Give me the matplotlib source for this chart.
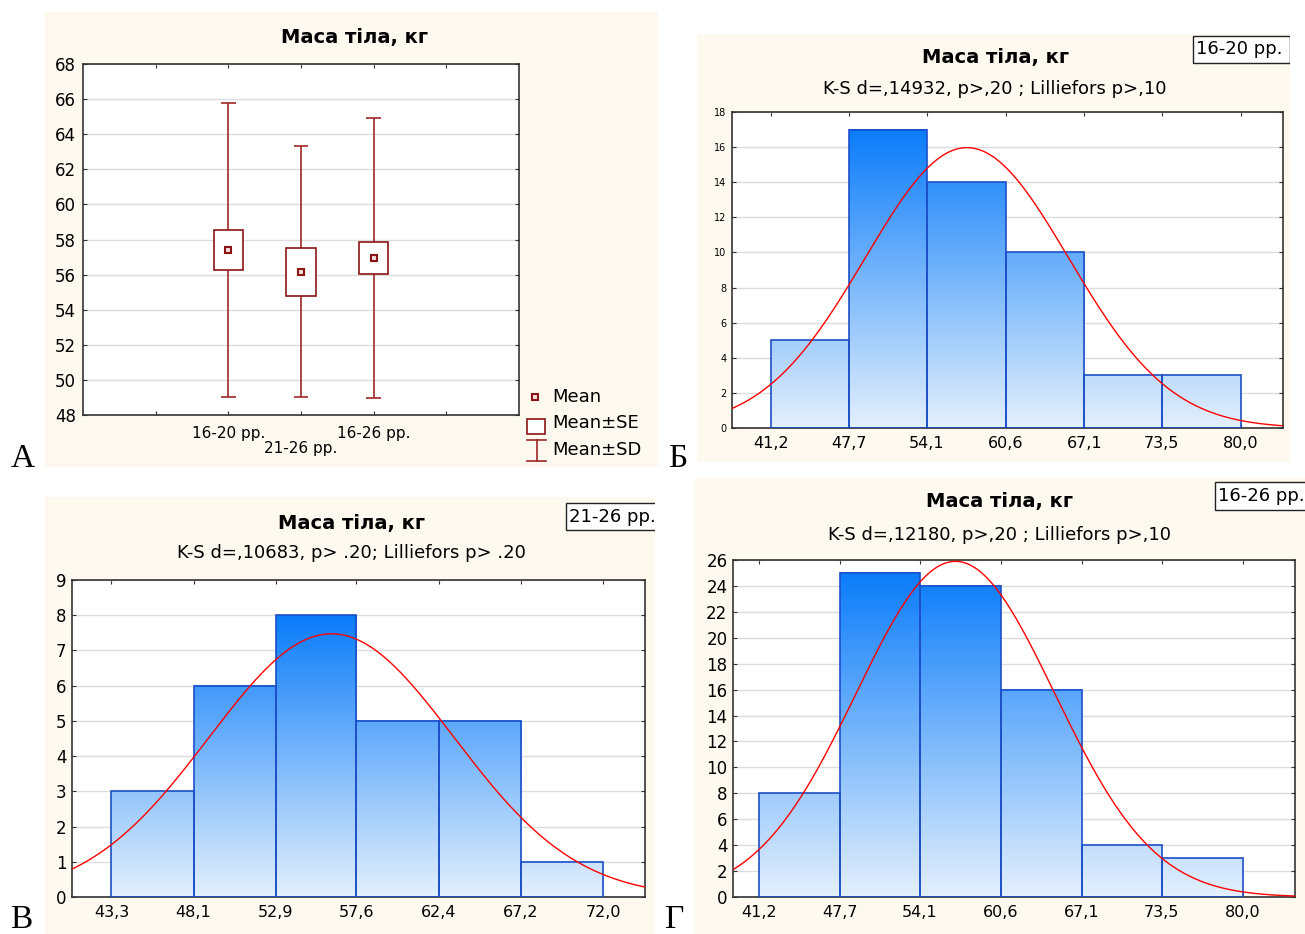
import numpy as np
import matplotlib.pyplot as plt
from matplotlib.patches import Rectangle
from matplotlib.lines import Line2D
from matplotlib.colors import LinearSegmentedColormap

plt.rcParams['font.family'] = ['DejaVu Sans']

# групи: кількість, середнє, стандартне відхилення (маса тіла, кг)
groups = ['16-20 рр.', '21-26 рр.', '16-26 рр.']
n_obs = [52, 28, 80]
means = [57.4, 56.15, 56.95]
sds = [8.4, 7.15, 7.97]

# гістограми
edges_1620 = [41.2, 47.7, 54.1, 60.6, 67.1, 73.5, 80.0]
counts_1620 = [5, 17, 14, 10, 3, 3]
edges_2126 = [43.3, 48.1, 52.9, 57.6, 62.4, 67.2, 72.0]
counts_2126 = [3, 6, 8, 5, 5, 1]
edges_1626 = [41.2, 47.7, 54.1, 60.6, 67.1, 73.5, 80.0]
counts_1626 = [8, 25, 24, 16, 4, 3]

ks_1620 = 'K-S d=,14932, p>,20 ; Lilliefors p>,10'
ks_2126 = 'K-S d=,10683, p> .20; Lilliefors p> .20'
ks_1626 = 'K-S d=,12180, p>,20 ; Lilliefors p>,10'
title = 'Маса тіла, кг'

W, H = 1305, 934
cream = '#fdf9ee'
dark_red = '#8b1414'
whisk = '#a02828'
bar_edge = '#1c4fc8'
bar_cmap = LinearSegmentedColormap.from_list('bars', ['#e4f0fd', '#0a7cfa'])

fig = plt.figure(figsize=(W / 100, H / 100), dpi=100)


def fbox(x0, y0, x1, y1):
    return [x0 / W, 1 - y1 / H, (x1 - x0) / W, (y1 - y0) / H]


def ftext(x, y, s, **kw):
    return fig.text(x / W, 1 - y / H, s, **kw)


def panel_bg(x0, y0, x1, y1):
    r = Rectangle((x0 / W, 1 - y1 / H), (x1 - x0) / W, (y1 - y0) / H,
                  transform=fig.transFigure, facecolor=cream,
                  edgecolor='none', zorder=-2)
    fig.add_artist(r)
    return r


def group_box(x0, y0, x1, y1, label, clip):
    r = Rectangle((x0 / W, 1 - y1 / H), (x1 - x0) / W, (y1 - y0) / H,
                  transform=fig.transFigure, facecolor='white',
                  edgecolor='#222222', lw=1, zorder=-1)
    fig.add_artist(r)
    r.set_clip_path(clip)
    t = ftext(x0 + 3, (y0 + y1) / 2, label, fontsize=13, va='center',
              ha='left', zorder=0)
    t.set_clip_on(True)
    t.set_clip_path(clip)


def style_axes(ax):
    for s in ax.spines.values():
        s.set_color('#333333')
        s.set_linewidth(1.2)
    ax.tick_params(direction='in', length=3, top=True, right=True,
                   color='#333333')
    ax.grid(axis='y', color='#dcdcdc', lw=1)
    ax.set_axisbelow(True)


def histogram(rect, edges, counts, n, mean, sd, ymax, ystep, xlim, ysize):
    ax = fig.add_axes(fbox(*rect))
    hmax = max(counts)
    for x0, x1, c in zip(edges[:-1], edges[1:], counts):
        grad = np.linspace(0, c / hmax, 256).reshape(-1, 1)
        ax.imshow(grad, extent=(x0, x1, 0, c), origin='lower', aspect='auto',
                  cmap=bar_cmap, vmin=0, vmax=1, zorder=2)
        ax.add_patch(Rectangle((x0, 0), x1 - x0, c, facecolor='none',
                               edgecolor=bar_edge, lw=1.2, zorder=3))
    # нормальна крива
    w = (edges[-1] - edges[0]) / len(counts)
    xs = np.linspace(xlim[0], xlim[1], 400)
    ys = n * w / (sd * np.sqrt(2 * np.pi)) * np.exp(-0.5 * ((xs - mean) / sd) ** 2)
    ax.plot(xs, ys, color='#ff0000', lw=1, zorder=4)
    ax.set_xlim(xlim)
    ax.set_ylim(0, ymax)
    ax.set_xticks(edges)
    ax.set_xticklabels([f'{e:.1f}'.replace('.', ',') for e in edges], fontsize=11.5)
    ax.set_yticks(np.arange(0, ymax + 1, ystep))
    ax.tick_params(axis='y', labelsize=ysize, pad=4)
    ax.tick_params(axis='x', pad=6)
    style_axes(ax)
    return ax


# ---- А: середні, SE, SD ----
panel_bg(45, 12, 658, 467)
ax = fig.add_axes(fbox(83, 64, 519, 415))
pos = [2, 3, 4]
for p, m, sd, n in zip(pos, means, sds, n_obs):
    se = sd / np.sqrt(n)
    ax.vlines(p, m - sd, m + sd, color=whisk, lw=1.2, zorder=2)
    ax.hlines([m - sd, m + sd], p - 0.1, p + 0.1, color=whisk, lw=1.2, zorder=2)
    ax.add_patch(Rectangle((p - 0.2, m - se), 0.4, 2 * se, facecolor='white',
                           edgecolor=dark_red, lw=1.2, zorder=3))
    ax.plot(p, m, 's', ms=4, mfc='#f4dede', mec=dark_red, mew=1.5, zorder=4)
ax.set_xlim(0, 6)
ax.set_ylim(48, 68)
ax.set_yticks(np.arange(48, 69, 2))
ax.set_xticks([1, 2, 3, 4, 5])
ax.set_xticklabels(['', groups[0], '\n' + groups[1], groups[2], ''], fontsize=11,
                   linespacing=0.95)
ax.tick_params(axis='y', labelsize=12, pad=5)
ax.tick_params(axis='x', pad=8)
style_axes(ax)
ftext(354, 38, title, fontsize=14, fontweight='bold', ha='center', va='center')

# легенда
fig.add_artist(Line2D([535 / W], [1 - 397 / H], marker='s', ms=4, mfc='#f4dede',
                      mec=dark_red, mew=1.5, transform=fig.transFigure))
fig.add_artist(Rectangle((527 / W, 1 - 434 / H), 18 / W, 15 / H,
                         transform=fig.transFigure, facecolor='white',
                         edgecolor=dark_red, lw=1.2))
fig.add_artist(Line2D([536.5 / W] * 2, [1 - 440 / H, 1 - 461 / H], color=whisk,
                      lw=1.2, transform=fig.transFigure))
for yy in (440, 461):
    fig.add_artist(Line2D([527 / W, 546 / W], [1 - yy / H] * 2, color=whisk,
                          lw=1.2, transform=fig.transFigure))
for yy, s in zip((397, 423, 450), ('Mean', 'Mean±SE', 'Mean±SD')):
    ftext(552, yy, s, fontsize=13, va='center', ha='left')

# ---- Б: 16-20 рр. ----
bg = panel_bg(697, 34, 1290, 462)
histogram((732, 112, 1283, 428), edges_1620, counts_1620, n_obs[0], means[0],
          sds[0], 18, 2, (38.0, 83.5), 7)
ftext(995, 58, title, fontsize=14, fontweight='bold', ha='center', va='center')
ftext(995, 89, ks_1620, fontsize=13, ha='center', va='center')
group_box(1193, 36, 1290, 63, groups[0], bg)

# ---- В: 21-26 рр. ----
bg = panel_bg(45, 497, 655, 934)
histogram((72, 580, 645, 897), edges_2126, counts_2126, n_obs[1], means[1],
          sds[1], 9, 1, (41.0, 74.45), 12)
ftext(351, 523, title, fontsize=14, fontweight='bold', ha='center', va='center')
ftext(351, 553, ks_2126, fontsize=13, ha='center', va='center')
group_box(566, 503, 680, 530, groups[1], bg)

# ---- Г: 16-26 рр. ----
bg = panel_bg(695, 478, 1305, 934)
histogram((733, 560, 1295, 897), edges_1626, counts_1626, n_obs[2], means[2],
          sds[2], 26, 2, (39.1, 84.2), 12)
ftext(1000, 502, title, fontsize=14, fontweight='bold', ha='center', va='center')
ftext(1000, 535, ks_1626, fontsize=13, ha='center', va='center')
group_box(1215, 482, 1330, 510, groups[2], bg)

# літери панелей
for x, y, s in ((11, 467, 'А'), (668, 467, 'Б'), (10, 928, 'В'), (665, 928, 'Г')):
    ftext(x, y, s, fontsize=24, family='Liberation Serif', ha='left',
          va='baseline')

fig.savefig('out.png', dpi=100)
